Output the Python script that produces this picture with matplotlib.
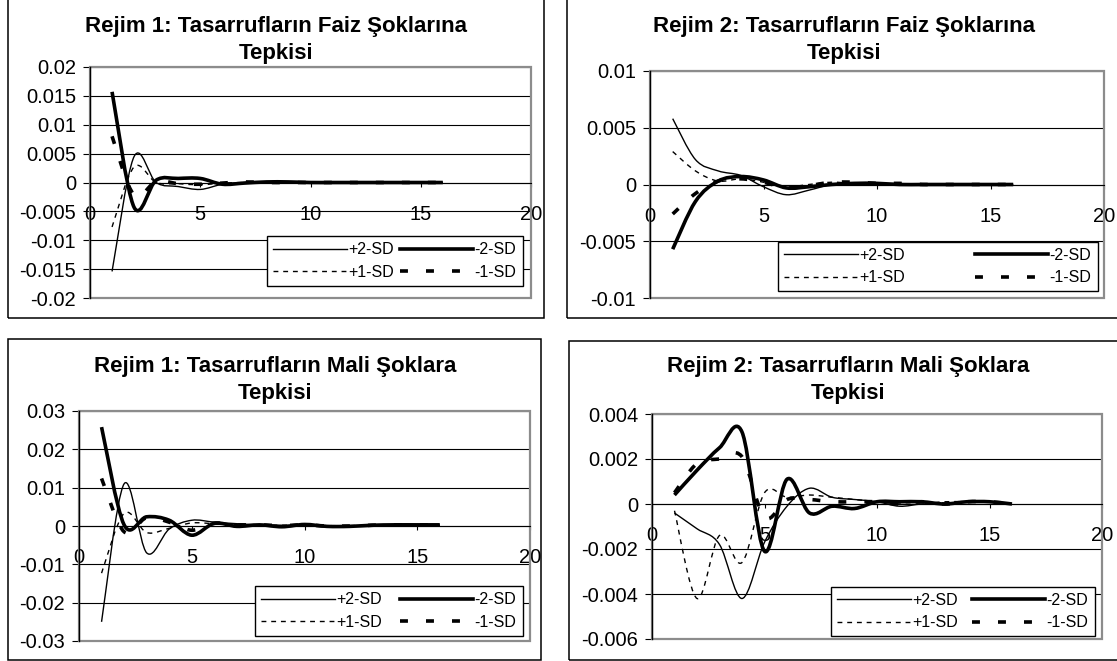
import matplotlib
matplotlib.use("Agg")
import matplotlib.pyplot as plt
from matplotlib.path import Path
from matplotlib.patches import PathPatch, Rectangle
from matplotlib.lines import Line2D
import numpy as np

plt.rcParams['font.family'] = ['Liberation Sans', 'DejaVu Sans']

# ---- data ----
periods = np.arange(1, 17)
series_labels = ["+2-SD", "-2-SD", "+1-SD", "-1-SD"]
x_ticks = [0, 5, 10, 15, 20]
x_tick_labels = ["0", "5", "10", "15", "20"]

title_r1_faiz = "Rejim 1: Tasarrufların Faiz Şoklarına\nTepkisi"
r1_faiz_p2 = [-0.0154, 0.0045, 0.0000, -0.0007, -0.0012, -0.0003, 0.0000, 0.0001, 0.0000, 0, 0, 0, 0, 0, 0, 0]
r1_faiz_m2 = [0.0157, -0.0043, 0.0004, 0.0007, 0.0007, -0.0003, -0.0001, 0.0001, 0.0001, 0, 0, 0, 0, 0, 0, 0]
r1_faiz_p1 = [-0.0077, 0.0027, 0.0000, -0.0002, -0.0004, -0.0001, 0.0000, 0.0001, 0, 0, 0, 0, 0, 0, 0, 0]
r1_faiz_m1 = [0.0080, -0.0022, 0.0002, -0.0002, -0.0003, -0.0001, 0.0001, 0.0000, 0, 0, 0, 0, 0, 0, 0, 0]
r1_faiz_yticks = [0.02, 0.015, 0.01, 0.005, 0, -0.005, -0.01, -0.015, -0.02]
r1_faiz_ylabels = ["0.02", "0.015", "0.01", "0.005", "0", "-0.005", "-0.01", "-0.015", "-0.02"]

title_r2_faiz = "Rejim 2: Tasarrufların Faiz Şoklarına\nTepkisi"
r2_faiz_p2 = [0.0058, 0.0022, 0.0012, 0.0008, -0.0002, -0.0009, -0.0005, 0.0000, 0.0001, 0.0001, 0, 0, 0, 0, 0, 0]
r2_faiz_m2 = [-0.0057, -0.0015, 0.0003, 0.0007, 0.0004, -0.0003, -0.0002, 0.0000, 0.0001, 0.0001, 0, 0, 0, 0, 0, 0]
r2_faiz_p1 = [0.0029, 0.0012, 0.0003, 0.0005, 0.0002, -0.0002, 0.0000, 0.0002, 0.0001, 0.0001, 0, 0, 0, 0, 0, 0]
r2_faiz_m1 = [-0.0026, -0.0008, 0.0003, 0.0005, 0.0002, -0.0003, -0.0001, 0.0002, 0.0002, 0.0001, 0.0001, 0, 0, 0, 0, 0]
r2_faiz_yticks = [0.01, 0.005, 0, -0.005, -0.01]
r2_faiz_ylabels = ["0.01", "0.005", "0", "-0.005", "-0.01"]

title_r1_mali = "Rejim 1: Tasarrufların Mali Şoklara\nTepkisi"
r1_mali_p2 = [-0.0250, 0.0110, -0.0070, -0.0008, 0.0015, 0.0010, 0.0006, 0.0003, 0.0002, 0.0001, -0.0001, 0.0000, 0.0001, 0.0002, 0.0002, 0.0002]
r1_mali_m2 = [0.0258, 0.0003, 0.0024, 0.0015, -0.0024, 0.0007, -0.0001, 0.0003, -0.0002, 0.0004, -0.0001, -0.0001, 0.0002, 0.0003, 0.0003, 0.0003]
r1_mali_p1 = [-0.0123, 0.0033, -0.0017, -0.0006, 0.0008, 0.0006, 0.0004, 0.0002, 0.0002, 0.0002, 0.0001, 0.0001, 0.0002, 0.0002, 0.0002, 0.0002]
r1_mali_m1 = [0.0124, -0.0015, 0.0022, 0.0010, -0.0011, 0.0007, 0.0003, 0.0003, 0.0001, 0.0003, 0.0000, 0.0000, 0.0002, 0.0003, 0.0003, 0.0003]
r1_mali_yticks = [0.03, 0.02, 0.01, 0, -0.01, -0.02, -0.03]
r1_mali_ylabels = ["0.03", "0.02", "0.01", "0", "-0.01", "-0.02", "-0.03"]

title_r2_mali = "Rejim 2: Tasarrufların Mali Şoklara\nTepkisi"
r2_mali_p2 = [-0.0004, -0.0011, -0.0018, -0.0042, -0.0017, -0.0001, 0.0007, 0.0003, 0.0002, 0.0001, -0.0001, 0.0000, 0.0000, 0.0001, 0.0001, 0.0000]
r2_mali_m2 = [0.0004, 0.0015, 0.0025, 0.0032, -0.0021, 0.0011, -0.0004, -0.0001, -0.0002, 0.0001, 0.0001, 0.0001, 0.0000, 0.0001, 0.0001, 0.0000]
r2_mali_p1 = [-0.0003, -0.0042, -0.0014, -0.0026, 0.0005, 0.0003, 0.0004, 0.0003, 0.0002, 0.0001, 0.0000, 0.0000, 0.0001, 0.0001, 0.0001, 0.0000]
r2_mali_m1 = [0.0005, 0.0018, 0.0020, 0.0021, -0.0006, 0.0002, 0.0002, 0.0001, 0.0001, 0.0001, 0.0000, 0.0001, 0.0000, 0.0001, 0.0001, 0.0000]
r2_mali_yticks = [0.004, 0.002, 0, -0.002, -0.004, -0.006]
r2_mali_ylabels = ["0.004", "0.002", "0", "-0.002", "-0.004", "-0.006"]

# ---- layout (pixels) ----
W, H = 1117, 661
styles = [
    dict(lw=1.0, ls="-"),
    dict(lw=2.6, ls="-"),
    dict(lw=1.0, ls=(0, (3.5, 3.5))),
    dict(lw=2.6, ls=(0, (2.2, 5.0))),
]


def fig_box(x0, y0, x1, y1):
    return [x0 / W, 1 - y1 / H, (x1 - x0) / W, (y1 - y0) / H]


def smooth_path(xs, ys):
    # excel style smoothed line: cubic bezier through every point
    pts = np.column_stack([xs, ys]).astype(float)
    n = len(pts)
    verts = [pts[0]]
    codes = [Path.MOVETO]
    for i in range(n - 1):
        p0 = pts[i - 1] if i > 0 else pts[i]
        p1 = pts[i]
        p2 = pts[i + 1]
        p3 = pts[i + 2] if i + 2 < n else pts[i + 1]
        verts += [p1 + (p2 - p0) / 6, p2 - (p3 - p1) / 6, p2]
        codes += [Path.CURVE4] * 3
    return Path(verts, codes)


def panel(fig, frame, axbox, title_xy, legbox, title, series, yticks, ylabels):
    fig.add_artist(Rectangle((frame[0] / W, 1 - frame[3] / H),
                             (frame[2] - frame[0]) / W, (frame[3] - frame[1]) / H,
                             transform=fig.transFigure, fill=False,
                             edgecolor="black", lw=1.1))
    fig.text(title_xy[0] / W, 1 - title_xy[1] / H, title, ha="center", va="center",
             fontsize=16, fontweight="bold", linespacing=1.4)

    ax = fig.add_axes(fig_box(*axbox))
    ax.set_xlim(0, 20)
    ax.set_ylim(min(yticks), max(yticks))
    ax.set_yticks(yticks)
    ax.set_yticklabels(ylabels)
    ax.set_xticks(x_ticks)
    ax.set_xticklabels(x_tick_labels)
    ax.yaxis.grid(True, color="black", lw=0.8)
    ax.set_axisbelow(True)
    for s in ["top", "right"]:
        ax.spines[s].set_visible(False)
    ax.spines["bottom"].set_position(("data", 0))
    ax.spines["bottom"].set_linewidth(0.8)
    ax.spines["left"].set_linewidth(1.0)
    ax.add_patch(Rectangle((0, 0), 1, 1, transform=ax.transAxes, fill=False,
                           edgecolor="#8c8c8c", lw=1.6, zorder=1.5, clip_on=False))
    ax.tick_params(axis="y", direction="out", length=5, width=0.8, pad=5, labelsize=14.5)
    ax.tick_params(axis="x", direction="out", length=3, width=0.8, pad=13, labelsize=14.5)

    for vals, st in zip(series, styles):
        ax.add_patch(PathPatch(smooth_path(periods, vals), fill=False, edgecolor="black",
                               lw=st["lw"], linestyle=st["ls"], zorder=3,
                               capstyle="butt", joinstyle="round"))

    handles = [Line2D([], [], color="black", lw=st["lw"], linestyle=st["ls"],
                      dash_capstyle="butt") for st in styles]
    # legend fills column by column; reorder so rows read +2/-2 then +1/-1
    order = [0, 2, 1, 3]
    lb = fig_box(*legbox)
    leg = ax.legend([handles[i] for i in order], [series_labels[i] for i in order],
                    ncol=2, loc="center", mode="expand",
                    bbox_to_anchor=lb, bbox_transform=fig.transFigure,
                    fontsize=11.5, handlelength=4.6, handletextpad=0.1,
                    columnspacing=0.6, labelspacing=0.45, borderpad=0.4,
                    borderaxespad=0, frameon=True, fancybox=False, framealpha=1)
    leg.get_frame().set_edgecolor("black")
    leg.get_frame().set_linewidth(1.0)
    return ax


fig = plt.figure(figsize=(W / 100, H / 100), dpi=100)

panel(fig, (8, -5, 544, 318), (90, 67, 531, 298), (276, 40), (267, 232, 523, 290),
      title_r1_faiz, [r1_faiz_p2, r1_faiz_m2, r1_faiz_p1, r1_faiz_m1],
      r1_faiz_yticks, r1_faiz_ylabels)
panel(fig, (567, -5, 1125, 318), (650, 71, 1104, 298), (844, 40), (778, 243, 1098, 290),
      title_r2_faiz, [r2_faiz_p2, r2_faiz_m2, r2_faiz_p1, r2_faiz_m1],
      r2_faiz_yticks, r2_faiz_ylabels)
panel(fig, (8, 339, 541, 660), (79, 411, 530, 641), (275, 380), (255, 587, 523, 635),
      title_r1_mali, [r1_mali_p2, r1_mali_m2, r1_mali_p1, r1_mali_m1],
      r1_mali_yticks, r1_mali_ylabels)
panel(fig, (569, 341, 1125, 660), (652, 414, 1102, 639), (848, 380), (831, 588, 1095, 635),
      title_r2_mali, [r2_mali_p2, r2_mali_m2, r2_mali_p1, r2_mali_m1],
      r2_mali_yticks, r2_mali_ylabels)

fig.savefig("out.png", dpi=100)
